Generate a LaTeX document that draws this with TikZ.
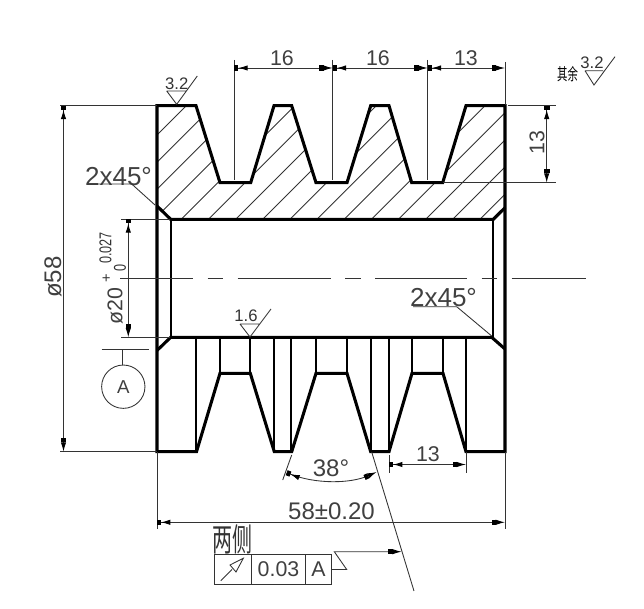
\documentclass[tikz,border=0pt]{standalone}
\usepackage{fontspec}
\setmainfont{Liberation Sans}
\newfontfamily\cjk{Noto Sans CJK SC}
\usetikzlibrary{arrows.meta}
\tikzset{
    outline/.style={line width=2.3pt,line join=miter},
    edge/.style={line width=1.3pt},
    thin line/.style={line width=0.65pt,color=black!80},
    dim/.style={thin line,{Square[length=3pt,width=4pt,black]Latex[length=7pt,width=4pt,black]}-{Square[length=3pt,width=4pt,black]Latex[length=7pt,width=4pt,black]}},
    leader/.style={thin line,-{Square[length=3pt,width=4pt,black]Latex[length=7pt,width=4pt,black]}},
    dimtext/.style={inner sep=0pt,text=black!75,font=\fontsize{16}{16}\selectfont},
    smalltext/.style={inner sep=0pt,text=black!80,font=\fontsize{12.5}{12.5}\selectfont},
}
\begin{document}
\begin{tikzpicture}[x=0.75pt,y=-0.75pt]
    \useasboundingbox (0,0) rectangle (644,609);
    % hatching of the upper half
    \begin{scope}
        \clip (157,105.7) -- (196,105.7) -- (220,182.7) -- (250.7,182.7) -- (274,105.7) -- (291.7,105.7) -- (316,182.7) -- (347,182.7) -- (370.7,105.7) -- (389,105.7) -- (411.7,182.7) -- (442.7,182.7) -- (466,105.7) -- (505,105.7) -- (505,207.7) -- (493.3,219.3) -- (170.7,219.3) -- (157,206) -- cycle;
        \foreach \s in {292,319.15,...,700} {
            \draw[thin line] (\s-219.3,219.3) -- (\s-105.7,105.7);
        }
    \end{scope}
    % lines inside the lower half
    \foreach \x in {196,274,291,370.7,389,466} {
        \draw[edge] (\x,337.3) -- (\x,451.7);
    }
    \foreach \x in {220,250.3,316,347,412,443} {
        \draw[edge] (\x,337.3) -- (\x,373.3);
    }
    \draw[edge] (170.7,219.3) -- (170.7,337.3);
    \draw[edge] (493.3,219.3) -- (493.3,337.3);
    % outline
    \draw[outline] (157,105.7) -- (196,105.7) -- (220,182.7) -- (250.7,182.7) -- (274,105.7) -- (291.7,105.7) -- (316,182.7) -- (347,182.7) -- (370.7,105.7) -- (389,105.7) -- (411.7,182.7) -- (442.7,182.7) -- (466,105.7) -- (505,105.7) -- (505,451.7) -- (466,451.7) -- (443,373.3) -- (412,373.3) -- (389,451.7) -- (370.7,451.7) -- (347,373.3) -- (316,373.3) -- (291.7,451.7) -- (274.3,451.7) -- (250.3,373.3) -- (220,373.3) -- (196.5,451.7) -- (157,451.7) -- cycle;
    \draw[outline] (157,206) -- (170.7,219.3) -- (493.3,219.3) -- (505,207.7);
    \draw[outline] (157,350.5) -- (170.7,337.3) -- (491.7,337.3) -- (505,349);
    % centre line
    \draw[thin line] (120,278) -- (192.7,278) (207.7,278) -- (223.3,278) (237.7,278) -- (330.7,278) (345,278) -- (360.7,278) (375,278) -- (466.7,278) (481.7,278) -- (496.7,278) (511.7,278) -- (586,278);
    % dimensions on top
    \draw[thin line] (234.3,60) -- (234.3,180) (332.7,60) -- (332.7,180) (427.7,60) -- (427.7,180) (505,62) -- (505,105);
    \draw[dim] (234.3,68) -- (332.7,68);
    \draw[dim] (332.7,68) -- (427.7,68);
    \draw[dim] (427.7,68) -- (505,68);
    \node[dimtext] (pitcha) at (282,58) {16};
    \node[dimtext] (pitchb) at (378,58) {16};
    \node[dimtext] (edgetop) at (466,58) {13};
    % depth of the groove
    \draw[thin line] (508,105.7) -- (556,105.7) (442.7,182.7) -- (556,182.7);
    \draw[dim] (546.7,105.7) -- (546.7,182.7);
    \node[dimtext,rotate=90] (depth) at (537,143) {13};
    % outer diameter
    \draw[thin line] (60,105.7) -- (157,105.7) (60,451.7) -- (157,451.7);
    \draw[dim] (63.5,105.7) -- (63.5,451.7);
    \node[dimtext,rotate=90,font=\fontsize{18}{18}\selectfont] (outerdia) at (53,277) {ø58};
    % bore
    \draw[thin line] (121,219.3) -- (170,219.3) (121,337.3) -- (170,337.3);
    \draw[dim] (128.3,219.3) -- (128.3,337.3);
    \node[dimtext,rotate=90] (boredia) at (115,306) {ø20};
    \node[smalltext,rotate=90] (boreplus) at (107,278) {\fontsize{11}{11}\selectfont +};
    \node[smalltext,rotate=90] (boreup) at (105.5,248) {\fontsize{9.5}{10}\selectfont\scalebox{1}[1.35]{0.027}};
    \node[smalltext,rotate=90] (borelow) at (120,268) {\fontsize{9.5}{10}\selectfont\scalebox{1}[1.35]{0}};
    % chamfers
    \node[dimtext,font=\fontsize{19.5}{19.5}\selectfont] (chamferl) at (118.5,176.5) {2x45°};
    \draw[thin line] (90,184) -- (131.7,184) -- (155,205);
    \node[dimtext,font=\fontsize{19.5}{19.5}\selectfont] (chamferr) at (443.5,298) {2x45°};
    \draw[thin line] (413,306.7) -- (456.7,306.7) -- (491.7,336);
    % roughness marks
    \draw[thin line] (166.7,91) -- (186.7,91) (166.7,91) -- (176.7,104.3) -- (197.3,76);
    \node[smalltext] (rougha) at (176.7,83.5) {3.2};
    \draw[thin line] (240,324) -- (260,324) (240,324) -- (250,337) -- (271,309);
    \node[smalltext] (roughb) at (246,316) {1.6};
    \draw[thin line] (585,70.7) -- (603,70.7) (585,70.7) -- (594,85) -- (615,56.7);
    \node[smalltext] (roughc) at (592,62.5) {3.2};
    \node[inner sep=0pt,text=black] (rest) at (567.5,74.5) {\cjk\fontsize{7.8}{8}\selectfont\scalebox{1}[1.6]{其余}};
    % datum
    \draw[thin line] (101.7,349.3) -- (149.3,349.3) (122.3,349.3) -- (122.3,365);
    \node[circle,draw=black!80,line width=0.65pt,minimum size=32.5pt,inner sep=0pt,text=black!75,font=\fontsize{14}{14}\selectfont] (datum) at (123.3,386.7) {A};
    % angle
    \draw[thin line] (291.7,455) -- (282.7,480) (371.7,452) -- (414,591);
    \draw[dim] (286.7,472.7) .. controls (315,484) and (350,484) .. (376.7,472);
    \node[dimtext,font=\fontsize{18}{18}\selectfont] (angle) at (331,468) {38°};
    % lower dimensions
    \draw[thin line] (389,455) -- (389,473) (466,452) -- (466,473);
    \draw[dim] (389,464.5) -- (466,464.5);
    \node[dimtext] (edgelow) at (428,454) {13};
    \draw[thin line] (157,452) -- (157,529) (505,452) -- (505,529);
    \draw[dim] (157,522.3) -- (505,522.3);
    \node[dimtext,font=\fontsize{18}{18}\selectfont] (width) at (331.5,511.5) {58±0.20};
    % tolerance frame
    \foreach \x in {251.7,305.7} {
        \draw[thin line] (\x,554.3) -- (\x,584);
    }
    \draw[thin line] (214,554.3) rectangle (331.7,584);
    \draw[thin line] (220.7,580.7) -- (232,569.5);
    \draw[thin line,fill=white] (243.3,558.3) -- (230,565) -- (236,572) -- cycle;
    \node[dimtext] (tolvalue) at (278.5,569.5) {0.03};
    \node[dimtext] (tolref) at (318.5,569.5) {A};
    \node[inner sep=0pt,text=black!80] (bothsides) at (232,539) {\cjk\fontsize{15}{15}\selectfont\scalebox{1}[1.6]{两侧}};
    \draw[leader] (331.7,569.5) -- (346.7,569.5) -- (334.3,551.7) -- (401.7,551.7);
\end{tikzpicture}
\end{document}
